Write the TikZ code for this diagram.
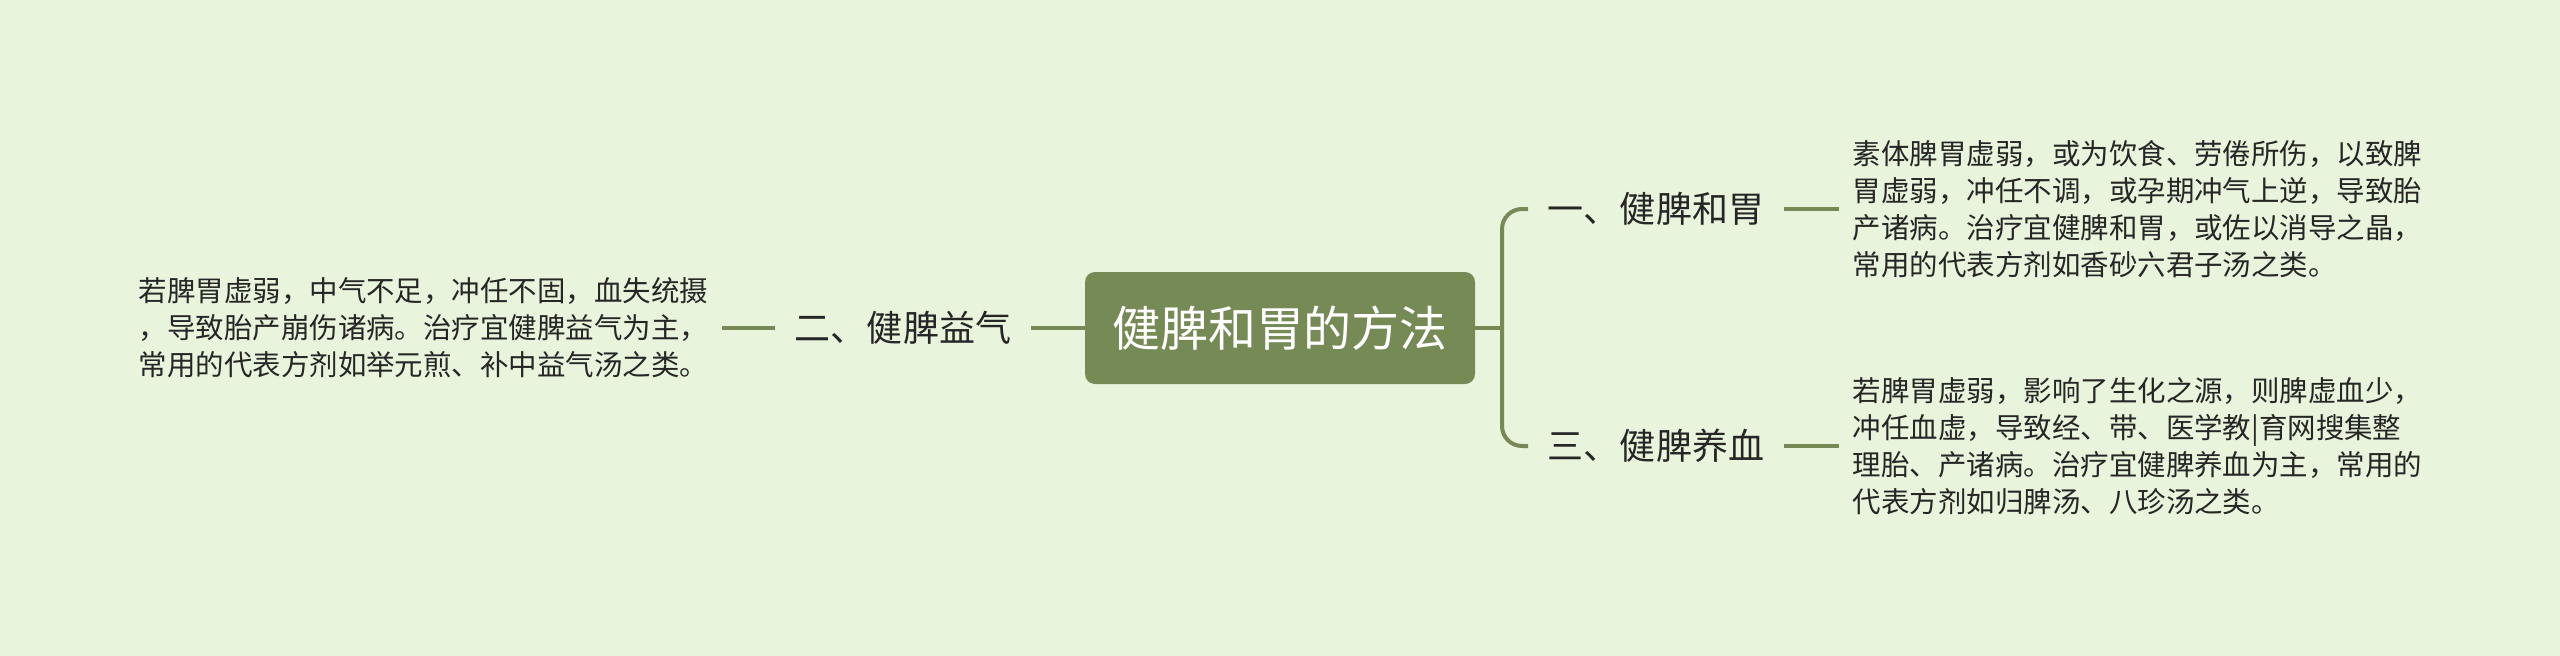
\documentclass[tikz,border=0pt]{standalone}
\usepackage{fontspec}
\setmainfont{Noto Sans CJK SC}
\definecolor{bgcol}{HTML}{E8F5DC}
\definecolor{branchgreen}{HTML}{768A56}
\definecolor{ink}{HTML}{262626}
\begin{document}
\begin{tikzpicture}[x=0.2mm,y=-0.2mm,
  root node/.style={rectangle,rounded corners=2mm,fill=branchgreen,text=white,minimum width=78mm,minimum height=22.4mm,font=\fontsize{27.3pt}{32pt}\selectfont},
  branch node/.style={inner xsep=3.9mm,inner ysep=0pt,text=ink,font=\fontsize{20.5pt}{24pt}\selectfont},
  leaf node/.style={inner xsep=2.7mm,inner ysep=0pt,align=left,text=ink,font=\fontsize{16.2pt}{21pt}\selectfont},
  link/.style={draw=branchgreen,line width=0.8mm}]
                \fill[bgcol] (0,0) rectangle (2560,656);
                \node[root node] at (1280, 328) (root) {健脾和胃的方法};
                \node[branch node] at (903, 328) (b2) {二、健脾益气};
                \node[branch node] at (1656, 209) (b1) {一、健脾和胃};
                \node[branch node] at (1656, 446) (b3) {三、健脾养血};
                \node[leaf node,anchor=east] at (722, 328) (l2) {若脾胃虚弱，中气不足，冲任不固，血失统摄\\，导致胎产崩伤诸病。治疗宜健脾益气为主，\\常用的代表方剂如举元煎、补中益气汤之类。};
                \node[leaf node,anchor=west] at (1839, 209) (l1) {素体脾胃虚弱，或为饮食、劳倦所伤，以致脾\\胃虚弱，冲任不调，或孕期冲气上逆，导致胎\\产诸病。治疗宜健脾和胃，或佐以消导之晶，\\常用的代表方剂如香砂六君子汤之类。};
                \node[leaf node,anchor=west] at (1839, 446) (l3) {若脾胃虚弱，影响了生化之源，则脾虚血少，\\冲任血虚，导致经、带、医学教|育网搜集整\\理胎、产诸病。治疗宜健脾养血为主，常用的\\代表方剂如归脾汤、八珍汤之类。};
                \coordinate (fork) at (1502, 328);

                \path[link] (root) edge (fork);
                \draw[link,rounded corners=4mm] (b1.west) -| (fork) |- (b3.west);
                \path[link] (b2) edge (root);
                \path[link] (l2) edge (b2);
                \path[link] (b1) edge (l1);
                \path[link] (b3) edge (l3);
            \end{tikzpicture}
\end{document}
